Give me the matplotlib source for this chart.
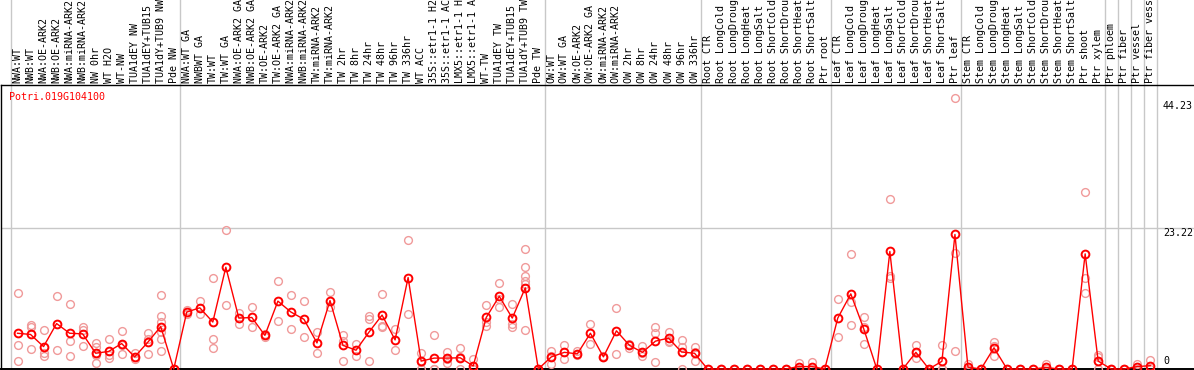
import matplotlib
matplotlib.use('Agg')
import matplotlib.pyplot as plt
import matplotlib.transforms as mtransforms

gene = "Potri.019G104100"

categories = [
    "NWA:WT", "NWB:WT", "NWA:OE-ARK2", "NWB:OE-ARK2", "NWA:miRNA-ARK2", "NWB:miRNA-ARK2",
    "NW 0hr", "WT H2O", "WT-NW", "TUA1dEY NW", "TUA1dEY+TUB15 NW", "TUA1dY+TUB9 NW", "Pde NW",
    "NWA:WT GA", "NWBWT GA", "TW:WT", "TW:WT GA", "NWA:OE-ARK2 GA", "NWB:OE-ARK2 GA",
    "TW:OE-ARK2", "TW:OE-ARK2 GA", "NWA:miRNA-ARK2 GA", "NWB:miRNA-ARK2 GA", "TW:miRNA-ARK2",
    "TW:miRNA-ARK2 GA", "TW 2hr", "TW 8hr", "TW 24hr", "TW 48hr", "TW 96hr", "TW 336hr",
    "WT ACC", "35S::etr1-1 H2O", "35S::etr1-1 ACC", "LMX5::etr1-1 H2O", "LMX5::etr1-1 ACC",
    "WT-TW", "TUA1dEY TW", "TUA1dEY+TUB15 TW", "TUA1dY+TUB9 TW", "Pde TW",
    "OW:WT", "OW:WT GA", "OW:OE-ARK2", "OW:OE-ARK2 GA", "OW:miRNA-ARK2", "OW:miRNA-ARK2 GA",
    "OW 2hr", "OW 8hr", "OW 24hr", "OW 48hr", "OW 96hr", "OW 336hr",
    "Root CTR", "Root LongCold", "Root LongDrought", "Root LongHeat", "Root LongSalt",
    "Root ShortCold", "Root ShortDrought", "Root ShortHeat", "Root ShortSalt", "Ptr root",
    "Leaf CTR", "Leaf LongCold", "Leaf LongDrought", "Leaf LongHeat", "Leaf LongSalt",
    "Leaf ShortCold", "Leaf ShortDrought", "Leaf ShortHeat", "Leaf ShortSalt", "Ptr leaf",
    "Stem CTR", "Stem LongCold", "Stem LongDrought", "Stem LongHeat", "Stem LongSalt",
    "Stem ShortCold", "Stem ShortDrought", "Stem ShortHeat", "Stem ShortSalt", "Ptr shoot",
    "Ptr xylem", "Ptr phloem", "Ptr fiber", "Ptr vessel", "Ptr fiber vessel",
]

means = [
    5.9, 5.7, 3.7, 7.5, 5.9, 5.8, 2.6, 2.9, 4.2, 2.0, 4.4, 7.0, 0.0,
    9.4, 10.1, 7.75, 16.8, 8.4, 8.5, 5.55, 11.2, 9.4, 8.2, 4.3, 11.3, 3.9, 3.1, 6.1,
    8.9, 4.8, 15.1, 1.3, 1.8, 1.8, 1.85, 0.5, 8.5, 12.0, 8.4, 13.4, 0.0,
    2.0, 2.75, 2.5, 5.9, 2.0, 6.3, 3.9, 2.75, 4.6, 5.1, 2.8, 2.6,
    0.0, 0.0, 0.0, 0.0, 0.0, 0.0, 0.0, 0.4, 0.4, 0.0,
    8.4, 12.4, 6.6, 0.0, 19.4, 0.0, 2.75, 0.0, 1.27, 22.2,
    0.3, 0.0, 3.5, 0.0, 0.0, 0.0, 0.25, 0.0, 0.0, 19.0, 1.3,
    0.0, 0.0, 0.4, 0.55,
]

replicates = [
    [12.5, 3.9, 1.27], [7.3, 6.9, 3.25], [6.4, 2.6, 2.1], [12.0, 3.1], [10.7, 4.7, 2.1],
    [7.0, 6.5, 3.8], [4.3, 3.6, 2.7, 2.3, 1.0], [4.95, 2.3, 1.87], [6.2, 2.4, 4.0],
    [2.6, 1.6, 1.9], [5.9, 2.4, 4.9], [12.2, 8.7, 7.8, 6.05, 4.9, 3.0], [0, 0, 0],
    [9.0, 9.8], [11.2, 9.0], [15.0, 4.95, 3.5], [22.9, 10.5], [9.2, 7.5], [10.2, 7.0],
    [5.3, 5.8], [14.6, 7.9], [12.2, 6.55], [11.2, 5.3], [6.05, 2.6], [12.7, 10.2],
    [5.6, 4.7, 1.4], [4.1, 2.1], [8.75, 8.25, 1.27], [12.4, 7.15, 7.0], [6.55, 3.1],
    [21.3, 9.0], [2.7, 0, 1.2], [5.55, 0, 0], [2.8, 1.0, 1.6], [3.5, 0, 2.0], [1.65, 0, 0],
    [10.5, 7.8, 7.1], [14.2, 10.3, 11.5], [10.8, 7.5, 6.9],
    [19.75, 16.8, 15.4, 14.6, 14.1, 6.4], [0, 0],
    [3.0, 0.8, 2.1], [3.9, 1.65], [3.0, 2.3], [7.5, 4.2], [2.0, 2.1], [10.0, 2.4],
    [3.5, 4.2], [3.8, 2.1, 2.6], [6.9, 5.9, 1.1], [6.1, 4.7, 4.5], [4.8, 0, 3.6],
    [3.6, 1.4, 2.8],
    [0, 0], [0, 0], [0, 0], [0, 0], [0, 0], [0, 0], [0, 0], [1.0, 0], [1.1, 0], [0, 0],
    [11.5, 5.2], [18.9, 11.05, 7.2], [8.5, 4.2, 7.0], [0, 0], [28.0, 15.35, 15.0], [0, 0],
    [3.9, 1.8, 2.6], [0, 0], [3.9, 0, 0], [44.7, 19.1, 3.0],
    [0.9, 0], [0, 0], [4.45, 2.2, 3.8], [0, 0], [0, 0], [0, 0], [0.9, 0], [0, 0], [0, 0],
    [29.2, 15.1, 12.5], [2.3, 1.9, 0],
    [0, 0], [0, 0], [0.9, 0], [1.5, 0],
]

group_starts = [0, 13, 41, 53, 63, 73, 84, 85, 86, 87, 88]
ref_lines = [23.22]
ytick_values = [44.23, 23.22, 0]

# ---------------- layout (pixels) ----------------
W, H = 1194, 370
fig = plt.figure(figsize=(W / 100, H / 100), dpi=100)
ax_l, ax_r, ax_t, ax_b = 1, 1194, 85, 369
ax = fig.add_axes([ax_l / W, (H - ax_b) / H, (ax_r - ax_l) / W, (ax_b - ax_t) / H])

step = 13.02
x0 = 11.0
ax.set_xlim((ax_l - x0) / step - 0.5, (ax_r - x0) / step - 0.5)
ppu = (369 - 228.3) / 23.22
ax.set_ylim(0, (ax_b - ax_t) / ppu)

mono = "DejaVu Sans Mono"
fs = 7.2
red = "#ff0000"
pink = "#f09a9a"
grey = "#c8c8c8"

for s in ["left", "bottom", "top"]:
    ax.spines[s].set_color("black")
    ax.spines[s].set_linewidth(1.0)
ax.spines["bottom"].set_linewidth(1.4)
ax.spines["right"].set_visible(False)
ax.set_xticks([])
ax.set_yticks([])

# group separators, extending through label area to top of figure
ymax_frac = ax_b / (ax_b - ax_t)
for g in group_starts:
    ax.axvline(g - 0.5, ymin=0, ymax=ymax_frac, color=grey, lw=1.0, clip_on=False, zorder=1)

for v in ref_lines:
    ax.axhline(v, color=grey, lw=1.0, zorder=1)

xs = list(range(len(categories)))

# replicates
for i, reps in enumerate(replicates):
    ax.plot([i] * len(reps), reps, linestyle="none", marker="o", ms=5.6, mfc="none",
            mec=pink, mew=1.0, clip_on=False, zorder=3)

# mean line + markers
ax.plot(xs, means, color=red, lw=1.0, clip_on=False, zorder=4)
ax.plot(xs, means, linestyle="none", marker="o", ms=5.6, mfc="none", mec=red, mew=1.4,
        clip_on=False, zorder=5)

# category labels
trans = mtransforms.blended_transform_factory(ax.transData, ax.transAxes)
lab_y = 1 + 2.0 / (ax_b - ax_t)
for i, c in enumerate(categories):
    ax.text(i, lab_y, c, rotation=90, ha="center", va="bottom", family=mono, fontsize=fs,
            color="black", transform=trans, clip_on=False)

# gene title
fig.text(9 / W, 1 - 92 / H, gene, ha="left", va="top", family=mono, fontsize=fs, color=red)

# right-side value labels
xlab = (1163 - x0) / step - 0.5
for v in ytick_values:
    txt = f"{v:.2f}" if v != 0 else "0"
    if v == 0:
        ax.annotate(txt, (xlab, v), xytext=(0, 3), textcoords="offset pixels", ha="left",
                    va="bottom", family=mono, fontsize=fs, annotation_clip=False)
    else:
        ax.text(xlab, v, txt, ha="left", va="top", family=mono, fontsize=fs)

fig.savefig("out.png", dpi=100)
